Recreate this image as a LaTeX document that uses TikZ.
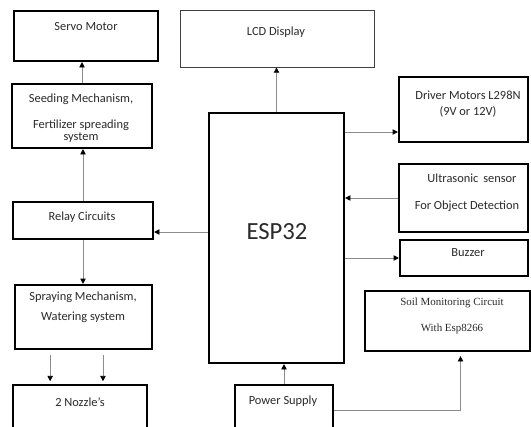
\documentclass[tikz,border=0pt]{standalone}
\usepackage{fontspec}
\setmainfont{Carlito}
\newfontfamily\seriffont{Liberation Serif}
\usetikzlibrary{fit,arrows.meta}
\definecolor{txt}{HTML}{2A2A2A}
\definecolor{lin}{HTML}{8C8C8C}
\tikzset{
  box/.style={draw=black,line width=1.6pt,inner sep=0pt,fill=white},
  thinbox/.style={draw=black!75,line width=0.6pt,inner sep=0pt,fill=white},
  lbl/.style={inner sep=0pt,text=txt,font=\fontsize{9.3}{11}\selectfont},
  arr/.style={draw=lin,line width=0.6pt,-{Triangle[color=black,length=4pt,width=4pt]}}
}
\begin{document}
\begin{tikzpicture}[x=0.75pt,y=-0.75pt]
\useasboundingbox (0,0) rectangle (531,426);
\clip (0,0) rectangle (531,426);
\fill[white] (0,0) rectangle (531,426);
% boxes
\node[box,fit={(14,11)(158,61)}] (servo) {};
\node[box,fit={(12,84)(152,148)}] (seed) {};
\node[box,fit={(13,202)(153,239)}] (relay) {};
\node[box,fit={(15,285)(152,349)}] (spray) {};
\node[box,fit={(13,385)(147,440)}] (nozzle) {};
\node[thinbox,fit={(180,10)(374,67)}] (lcd) {};
\node[box,fit={(209,113)(344,363)}] (esp) {};
\node[box,fit={(399,77)(528,142)}] (driver) {};
\node[box,fit={(399,164)(528,232)}] (ultra) {};
\node[box,fit={(400,240)(528,276)}] (buzzer) {};
\node[box,fit={(365,291)(530,351)}] (soil) {};
\node[box,fit={(235,385)(333,440)}] (power) {};
% texts
\node[lbl] (tservo) at (86,27) {Servo Motor};
\node[lbl] (tseed1) at (81,99) {Seeding Mechanism,};
\node[lbl] (tseed2) at (81,125) {Fertilizer spreading};
\node[lbl] (tseed3) at (81,138) {system};
\node[lbl] (trelay) at (82,217) {Relay Circuits};
\node[lbl] (tspray1) at (83,297) {Spraying Mechanism,};
\node[lbl] (tspray2) at (83,317) {Watering system};
\node[lbl] (tnoz) at (80,402) {2 Nozzle’s};
\node[lbl] (tlcd) at (276,32) {LCD Display};
\node[inner sep=0pt,text=txt,font=\fontsize{18.5}{22}\selectfont] (tesp) at (277,232) {ESP32};
\node[lbl] (tdrv1) at (468,95) {Driver Motors L298N};
\node[lbl] (tdrv2) at (468,112) {(9V or 12V)};
\node[lbl] (tult1) at (472,178) {Ultrasonic\, sensor};
\node[lbl] (tult2) at (467,206) {For Object Detection};
\node[lbl] (tbuz) at (468,253) {Buzzer};
\node[lbl,font=\seriffont\fontsize{8.2}{10}\selectfont] (tsoil1) at (452,303) {Soil Monitoring Circuit};
\node[lbl,font=\seriffont\fontsize{8.2}{10}\selectfont] (tsoil2) at (452,329) {With Esp8266};
\node[lbl] (tpow) at (283,401) {Power Supply};
% connectors
\draw[arr] (seed.north) -- (seed.north |- servo.south);
\draw[arr] (relay.north) -- (relay.north |- seed.south);
\draw[arr] (relay.south) -- (relay.south |- spray.north);
\draw[arr,shorten <=4pt,shorten >=2pt] ([xshift=-25pt]spray.south) -- ([xshift=-25pt]spray.south |- nozzle.north);
\draw[arr,shorten <=4pt,shorten >=2pt] ([xshift=14.6pt]spray.south) -- ([xshift=14.6pt]spray.south |- nozzle.north);
\draw[arr] (esp.west |- 0,232) -- (relay.east |- 0,232);
\draw[arr] (esp.north) -- (esp.north |- lcd.south);
\draw[arr] (esp.east |- 0,132) -- (driver.west |- 0,132);
\draw[arr] (ultra.west |- 0,198) -- (esp.east |- 0,198);
\draw[arr] (esp.east |- buzzer.west) -- (buzzer.west);
\draw[arr] (power.north) -- (power.north |- esp.south);
\draw[arr,shorten >=3pt] (power.east |- 0,410) -| ([xshift=9.75pt]soil.south);
\end{tikzpicture}
\end{document}
